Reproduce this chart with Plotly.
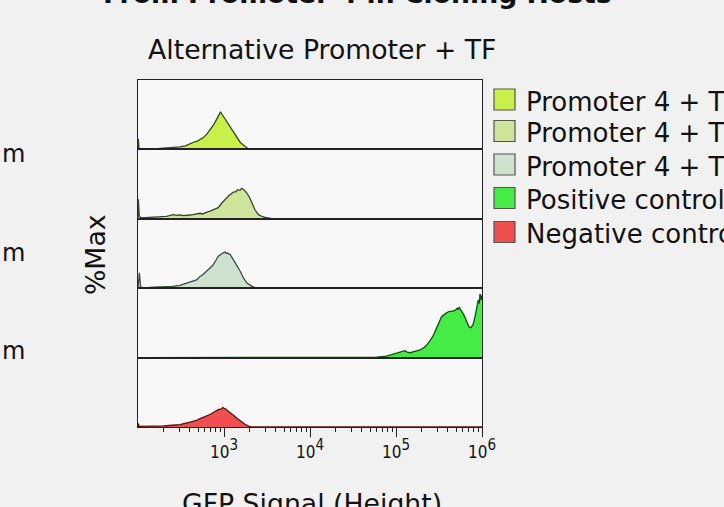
import numpy as np
import plotly.graph_objects as go
from plotly.subplots import make_subplots

# ---- data: flow histograms, GFP signal given as log10 values, height as %Max ----
labels = [
    "Promoter 4 + TF (strain 1)",
    "Promoter 4 + TF (strain 2)",
    "Promoter 4 + TF (strain 3)",
    "Positive control (GFP)",
    "Negative control (empty)",
]

s1_log = [2.0, 2.004, 2.012, 2.14, 2.22, 2.29, 2.40, 2.49, 2.55, 2.60, 2.66, 2.69, 2.72, 2.76, 2.80,
          2.82, 2.85, 2.876, 2.90, 2.92, 2.94, 2.96, 2.975, 2.99, 3.01, 3.03, 3.05, 3.07, 3.09,
          3.11, 3.15, 3.19, 3.24, 3.28, 3.34, 6.0]
s1_pct = [0, 15, 1, 0, 1, 1.5, 2, 3.5, 5, 8, 11, 12, 14.5, 17, 22,
          25, 30, 35, 40, 45, 50, 54, 51, 48, 46, 41, 37, 32, 29,
          24, 17, 10, 5, 1, 0, 0]

s2_log = [2.0, 2.004, 2.015, 2.03, 2.081, 2.15, 2.217, 2.28, 2.33, 2.37, 2.411, 2.45, 2.49, 2.53,
          2.566, 2.60, 2.64, 2.68, 2.721, 2.75, 2.78, 2.81, 2.837, 2.88, 2.934, 2.97, 3.012, 3.04,
          3.06, 3.085, 3.109, 3.14, 3.16, 3.185, 3.205, 3.23, 3.264, 3.30, 3.322, 3.36, 3.40,
          3.45, 3.496, 3.574, 6.0]
s2_pct = [0, 28, 4, 2, 1.5, 2, 1.5, 3, 3.5, 5, 6, 5, 5.5, 4.5,
          4.5, 5.5, 6, 6.5, 8, 7, 9, 10, 11, 13, 16, 22, 28, 31,
          34, 36, 38.5, 39, 42, 41, 44, 42, 37.5, 30, 23, 13, 6,
          3, 1.5, 0, 0]

s3_log = [2.0, 2.016, 2.03, 2.062, 2.18, 2.295, 2.40, 2.488, 2.56, 2.624, 2.68, 2.70, 2.721, 2.75,
          2.78, 2.81, 2.837, 2.87, 2.89, 2.91, 2.934, 2.955, 2.97, 2.99, 3.012, 3.025, 3.04, 3.055,
          3.07, 3.09, 3.11, 3.13, 3.147, 3.19, 3.225, 3.27, 3.322, 3.38, 6.0]
s3_pct = [0, 22, 2, 0.5, 1.5, 2, 2.5, 4, 7, 10, 12, 14, 17, 19,
          22, 26, 29, 33, 38, 41, 46, 48, 50, 51, 52, 50, 51, 49,
          49, 45, 42, 38, 34, 24, 15, 7, 3, 0, 0]

pos_log = [2.0, 4.70, 4.775, 4.89, 5.0, 5.06, 5.104, 5.13, 5.163, 5.22, 5.279, 5.32, 5.356, 5.40,
           5.434, 5.48, 5.53, 5.57, 5.608, 5.65, 5.686, 5.71, 5.72, 5.736, 5.75, 5.783, 5.81,
           5.829, 5.85, 5.868, 5.895, 5.919, 5.94, 5.957, 5.968, 5.977, 5.985, 5.992, 5.999]
pos_pct = [0, 0, 0.5, 2, 6, 8, 10, 8, 7, 9, 11, 14, 18, 25,
           32, 45, 59, 63, 66, 67, 68, 71, 69, 73, 69, 63, 55,
           49, 44, 43, 47, 59, 72, 83, 78, 92, 86, 83, 90]

neg_log = [2.0, 2.004, 2.012, 2.1, 2.2, 2.295, 2.40, 2.488, 2.605, 2.67, 2.721, 2.78, 2.837, 2.89,
           2.934, 2.97, 2.985, 3.0, 3.02, 3.035, 3.07, 3.11, 3.147, 3.2, 3.244, 3.29, 3.322, 6.0]
neg_pct = [0, 5, 1, 1, 1, 1.5, 2.5, 3.5, 7, 9, 12, 15, 18, 22,
           25, 26, 28, 27, 26, 24, 21, 17, 13, 8, 4, 1, 0, 0]

series_log = [s1_log, s2_log, s3_log, pos_log, neg_log]
series_pct = [s1_pct, s2_pct, s3_pct, pos_pct, neg_pct]

fill_colors = ["#c9f04a", "#cde49a", "#cde2cf", "#46ec46", "#f04f4f"]
line_colors = ["#33461a", "#36462a", "#3a4a3e", "#0d4f0d", "#551010"]

x_major = [1e3, 1e4, 1e5, 1e6]
x_major_exp = [3, 4, 5, 6]

# ---- canvas geometry (pixels) ----
W, H = 724, 507
L, R, T, B = 138, 482, 80, 427


def px_x(px):
    return (px - L) / (R - L)


def px_y(py):
    return (B - py) / (B - T)


FONT = "DejaVu Sans"
n = len(labels)
fig = make_subplots(rows=n, cols=1, shared_xaxes=True, vertical_spacing=0)

for i in range(n):
    xs = 10 ** np.asarray(series_log[i], dtype=float)
    fig.add_trace(
        go.Scatter(
            x=xs, y=series_pct[i], mode="lines", fill="tozeroy",
            fillcolor=fill_colors[i], line=dict(color=line_colors[i], width=1.3),
            name=labels[i], showlegend=False, hoverinfo="skip",
        ),
        row=i + 1, col=1,
    )
    fig.update_yaxes(
        range=[0, 100], showticklabels=False, ticks="", showgrid=False, zeroline=False,
        showline=True, mirror=True, linecolor="#222", linewidth=1.2, row=i + 1, col=1,
    )
    fig.update_xaxes(
        type="log", range=[2, 6], showgrid=False, zeroline=False,
        showline=True, mirror=True, linecolor="#222", linewidth=1.2, row=i + 1, col=1,
    )

# bottom axis: decade labels, long major ticks, short minor ticks
minor_vals = [m * 10 ** e for e in range(2, 6) for m in range(2, 10)]
tick_text = ["10<sup><span style='font-size:15px'>%d</span></sup>" % e for e in x_major_exp]
fig.update_xaxes(
    tickmode="array", tickvals=x_major, ticktext=tick_text,
    ticks="outside", ticklen=9, tickwidth=1.3, tickcolor="#222",
    tickfont=dict(family="DejaVu Sans Condensed, " + FONT, size=17, color="#111"),
    minor=dict(tickmode="array", tickvals=minor_vals, ticks="outside", ticklen=4,
               tickwidth=1.1, tickcolor="#222"),
    row=n, col=1,
)
for i in range(1, n):
    fig.update_xaxes(showticklabels=False, ticks="", row=i, col=1)

annotations = [
    dict(text="<b>From Promoter 4 in Cloning Hosts</b>", x=px_x(357), y=px_y(-7),
         font=dict(size=26.7, color="#111")),
    dict(text="Alternative Promoter + TF", x=px_x(322), y=px_y(49.5),
         font=dict(size=26.7, color="#111")),
    dict(text="%Max", x=px_x(95), y=px_y(255), textangle=-90,
         font=dict(size=26.7, color="#111")),
    dict(text="GFP Signal (Height)", x=px_x(312), y=px_y(503),
         font=dict(size=26.7, color="#111")),
]
for yy in [154, 253, 351]:
    annotations.append(dict(text="m", x=px_x(13.5), y=px_y(yy), font=dict(size=24, color="#111")))

# legend drawn as swatches with labels
shapes = []
sw_centers = [99.5, 131, 164.5, 198, 232]
for i, cy in enumerate(sw_centers):
    shapes.append(dict(type="rect", xref="paper", yref="paper",
                       x0=px_x(494), x1=px_x(515), y0=px_y(cy + 10.5), y1=px_y(cy - 10.5),
                       fillcolor=fill_colors[i], line=dict(color="#555", width=1.2)))
    annotations.append(dict(text=labels[i], x=px_x(524), y=px_y(cy + 2), xanchor="left",
                            font=dict(size=26, color="#111")))

for a in annotations:
    a.setdefault("xref", "paper")
    a.setdefault("yref", "paper")
    a.setdefault("showarrow", False)
    a.setdefault("xanchor", "center")
    a.setdefault("yanchor", "middle")

fig.update_layout(
    width=W, height=H,
    margin=dict(l=L, r=W - R, t=T, b=H - B, pad=0),
    paper_bgcolor="#f1f1f1", plot_bgcolor="#f8f8f8",
    font=dict(family=FONT, color="#111"),
    annotations=annotations, shapes=shapes, showlegend=False,
)

fig.write_html("out.html")
